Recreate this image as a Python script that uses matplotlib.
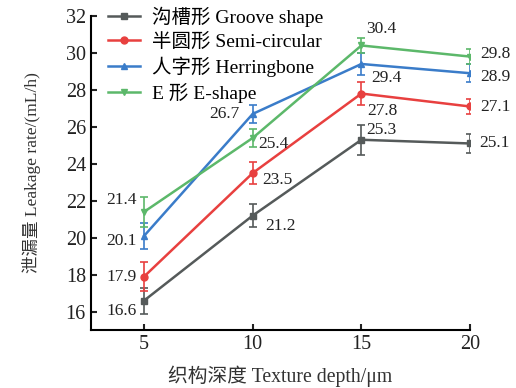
import matplotlib
matplotlib.use("Agg")
import matplotlib.pyplot as plt
from matplotlib.lines import Line2D

plt.rcParams['font.family'] = ['Liberation Serif', 'Noto Sans CJK SC']

# --- data ---
depth = [5, 10, 15, 20]
groove = [16.6, 21.2, 25.3, 25.1]
semi = [17.9, 23.5, 27.8, 27.1]
herring = [20.1, 26.7, 29.4, 28.9]
eshape = [21.4, 25.4, 30.4, 29.8]
groove_err = [0.7, 0.6, 0.8, 0.5]
semi_err = [0.8, 0.6, 0.6, 0.4]
herring_err = [0.7, 0.5, 0.6, 0.5]
eshape_err = [0.8, 0.5, 0.4, 0.4]
names = ['沟槽形 Groove shape', '半圆形 Semi-circular', '人字形 Herringbone', 'E 形 E-shape']

# label offsets in pixels (dx, dy, ha) for each point
series = [
    (groove, groove_err, '#555a5a', 's', [(-7, -10, 'right'), (13, -10, 'left'), (5, 10, 'left'), (9, 0, 'left')]),
    (semi, semi_err, '#e8403f', 'o', [(-7, 0, 'right'), (10, -7, 'left'), (6, -17, 'left'), (10, -1, 'left')]),
    (herring, herring_err, '#3a7cc9', '^', [(-7, -5, 'right'), (-13, 0, 'right'), (10, -14, 'left'), (10, -4, 'left')]),
    (eshape, eshape_err, '#5cb86a', 'v', [(-7, 12, 'right'), (6, -6, 'left'), (5, 16, 'left'), (10, 3, 'left')]),
]

fig = plt.figure(figsize=(5.16, 3.88), dpi=100)
ax = fig.add_axes([0.176, 0.149, 0.735, 0.81])

handles = []
for (vals, err, col, mk, offs), name in zip(series, names):
    ax.errorbar(depth, vals, yerr=err, color=col, marker=mk, markersize=5,
                linewidth=1.8, elinewidth=1.2, capsize=3, capthick=1.2)
    handles.append(Line2D([], [], color=col, marker=mk, markersize=5, linewidth=1.8, label=name))
    for x, y, (dx, dy, ha) in zip(depth, vals, offs):
        ax.annotate(f'{y:.1f}', (x, y), xytext=(dx, dy), textcoords='offset pixels',
                    ha=ha, va='center', fontsize=12.5, color='#222222')

ax.set_xlim(2.55, 20)
ax.set_ylim(15, 32)
ax.set_xticks(depth)
ax.set_yticks(range(16, 33, 2))
ax.tick_params(direction='in', labelsize=14.5, width=1.5, length=4, colors='#222222')
ax.spines['top'].set_visible(False)
ax.spines['right'].set_visible(False)
ax.spines['left'].set_linewidth(1.5)
ax.spines['bottom'].set_linewidth(1.5)

ax.set_xlabel('织构深度 Texture depth/μm', fontsize=14.2, color='#333333', labelpad=8)
ax.set_ylabel('泄漏量 Leakage rate/(mL/h)', fontsize=12.6, color='#333333', labelpad=18)

ax.legend(handles=handles, loc='upper left', frameon=False, fontsize=14, handlelength=1.65,
          handletextpad=0.6, borderpad=0, borderaxespad=0, labelspacing=0.3,
          bbox_to_anchor=(0.045, 1.03))

fig.savefig('out.png', dpi=100)
